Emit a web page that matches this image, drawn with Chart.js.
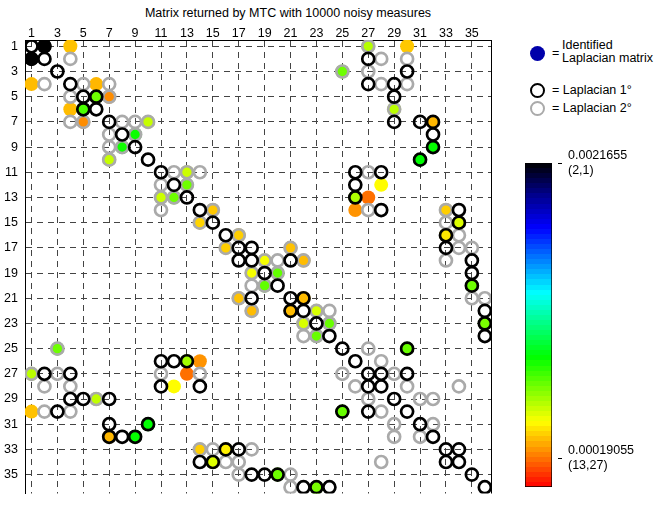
<!DOCTYPE html>
<html>
<head>
<meta charset="utf-8">
<script src="https://cdn.jsdelivr.net/npm/chart.js@4.4.1/dist/chart.umd.min.js"></script>
<style>
  html, body { margin: 0; padding: 0; background: #fff; }
  body { width: 655px; height: 508px; position: relative; overflow: hidden;
         font-family: "Liberation Sans", Arial, sans-serif; font-size: 12.5px; color: #000; }
  #main { position: absolute; left: 0; top: 0; }
  #cbar { position: absolute; left: 520px; top: 140px; }
  .title { position: absolute; left: 0; top: 6px; width: 576px; text-align: center; line-height: 14px; }
  .txt { position: absolute; white-space: nowrap; }
  .mark { position: absolute; width: 15px; height: 15px; border-radius: 50%; box-sizing: border-box; }
</style>
</head>
<body>
<div class="title">Matrix returned by MTC with 10000 noisy measures</div>
<canvas id="main" width="500" height="508"></canvas>
<canvas id="cbar" width="135" height="368"></canvas>

<div class="mark" style="left:530px; top:46px; background:#0000aa;"></div>
<div class="txt" style="left:552px; top:46px; line-height:14px;">=</div>
<div class="txt" style="left:562px; top:39px; line-height:13px;">Identified<br>Laplacian matrix</div>
<div class="mark" style="left:530px; top:83px; border:2.7px solid #000;"></div>
<div class="txt" style="left:552px; top:83px; line-height:14px;">= Laplacian 1°</div>
<div class="mark" style="left:530px; top:101px; border:2.7px solid #aaa;"></div>
<div class="txt" style="left:552px; top:101px; line-height:14px;">= Laplacian 2°</div>

<script>
// nodes of the network (rows / columns of the matrix)
const nodes = [1,2,3,4,5,6,7,8,9,10,11,12,13,14,15,16,17,18,19,20,21,22,23,24,25,26,27,28,29,30,31,32,33,34,35,36];
const tickLabels = [1,3,5,7,9,11,13,15,17,19,21,23,25,27,29,31,33,35];

// Laplacian 1° off-diagonal entries (upper triangle, mirrored when drawn)
const laplacian1 = [[1,2],[2,27],[3,30],[4,27],[4,29],[5,6],[5,29],[7,29],[7,31],[7,32],[8,32],[9,32],
  [10,31],[11,26],[11,28],[12,26],[13,26],[14,28],[14,34],[15,34],[16,33],[17,18],[17,33],[18,21],
  [18,35],[19,35],[20,35],[21,22],[22,36],[23,36],[24,36],[25,30],[27,28],[27,30],[33,34]];

// Laplacian 2° entries (upper triangle, mirrored when drawn)
const laplacian2 = [[1,27],[2,4],[2,28],[2,30],[3,25],[3,27],[4,5],[4,7],[4,28],[4,30],[5,7],[6,29],
  [7,8],[7,9],[7,10],[8,9],[11,12],[11,13],[11,14],[11,27],[12,13],[14,15],[14,27],[14,33],[15,33],
  [16,17],[16,34],[17,21],[17,34],[17,35],[18,19],[18,20],[18,22],[18,33],[19,20],[21,35],[21,36],
  [22,23],[22,24],[23,24],[25,27],[26,28],[27,29],[28,30],[28,34],[29,31],[29,32],[31,32]];

// identified entries: [row, column, value]
const identified = [
  [1,2,0.0021655],[2,1,0.0021655],[1,4,0.00033],[4,1,0.00032],[1,27,0.00056],[27,1,0.00055],
  [1,30,0.00034],[30,1,0.00033],[3,25,0.00068],[25,3,0.00068],[4,6,0.00031],[6,4,0.00032],
  [5,6,0.00068],[6,5,0.00074],[5,7,0.00024],[7,5,0.00024],[6,29,0.00055],[29,6,0.00054],
  [7,10,0.00053],[10,7,0.00053],[7,32,0.00031],[32,7,0.00031],[8,9,0.00085],[9,8,0.00084],
  [9,32,0.00086],[32,9,0.00086],[10,31,0.00087],[31,10,0.00087],[11,13,0.00052],[13,11,0.00052],
  [12,13,0.00068],[13,12,0.00068],[12,28,0.00043],[28,12,0.00043],[13,26,0.00057],[26,13,0.00059],
  [13,27,0.00019055],[27,13,0.00019055],[14,26,0.00025],[26,14,0.00025],[14,15,0.00034],[15,14,0.00036],
  [14,33,0.00035],[33,14,0.00035],[15,34,0.00049],[34,15,0.00049],[16,17,0.00035],[17,16,0.00035],
  [16,33,0.00039],[33,16,0.00041],[17,21,0.00033],[21,17,0.00033],[18,19,0.00045],[19,18,0.00045],
  [18,22,0.00032],[22,18,0.00032],[19,20,0.0007],[20,19,0.0007],[20,35,0.00068],[35,20,0.00068],
  [21,22,0.00032],[22,21,0.00032],[22,23,0.0005],[23,22,0.0005],[23,24,0.00069],[24,23,0.00069],
  [23,36,0.00066],[36,23,0.00066],[25,30,0.00069],[30,25,0.00069]];

// colour scale
const cmapMax = 0.0021655;
const colorbarTicks = [0.00019055, 0.0021655];
const colorbarLabels = [["0.00019055", "(13,27)"], ["0.0021655", "(2,1)"]];
const cmapStops = [[0, [255,0,0]], [0.2, [255,255,0]], [0.4, [0,255,0]], [0.6, [0,255,255]],
  [0.8, [0,0,255]], [0.9, [0,0,140]], [1, [0,0,0]]];

function cmap(t) {
  t = Math.max(0, Math.min(1, t));
  for (let i = 1; i < cmapStops.length; i++) {
    const [t1, c1] = cmapStops[i];
    const [t0, c0] = cmapStops[i - 1];
    if (t <= t1) {
      const f = (t - t0) / (t1 - t0);
      const c = c0.map((v, k) => Math.round(v + (c1[k] - v) * f));
      return "rgb(" + c.join(",") + ")";
    }
  }
  return "rgb(0,0,0)";
}

function mirror(pairs) {
  const pts = [];
  pairs.forEach(p => {
    pts.push({ x: p[1], y: p[0] });
    if (p[0] !== p[1]) pts.push({ x: p[0], y: p[1] });
  });
  return pts;
}

const font = { family: "'Liberation Sans', Arial, sans-serif", size: 12.5 };

// right side of the plot box
const frame = {
  id: "frame",
  afterDraw(chart) {
    const { ctx, chartArea } = chart;
    ctx.save();
    ctx.strokeStyle = "#000";
    ctx.lineWidth = 1;
    ctx.beginPath();
    ctx.moveTo(Math.round(chartArea.right) + 0.5, chartArea.top);
    ctx.lineTo(Math.round(chartArea.right) + 0.5, chartArea.bottom);
    ctx.stroke();
    ctx.restore();
  }
};

const axisTicks = s => { s.ticks = tickLabels.map(v => ({ value: v })); };

new Chart(document.getElementById("main"), {
  type: "scatter",
  data: {
    datasets: [
      {
        label: "Identified",
        data: identified.map(d => ({ x: d[1], y: d[0] })),
        pointRadius: 7,
        pointBorderWidth: 0,
        pointBackgroundColor: identified.map(d => cmap(d[2] / cmapMax)),
        order: 3
      },
      {
        label: "Laplacian 2°",
        data: mirror(laplacian2),
        pointRadius: 6,
        pointBorderWidth: 2.7,
        pointBorderColor: "#aaaaaa",
        pointBackgroundColor: "rgba(0,0,0,0)",
        order: 2
      },
      {
        label: "Laplacian 1°",
        data: mirror(nodes.map(n => [n, n]).concat(laplacian1)),
        pointRadius: 6,
        pointBorderWidth: 2.7,
        pointBorderColor: "#000000",
        pointBackgroundColor: "rgba(0,0,0,0)",
        order: 1
      }
    ]
  },
  options: {
    responsive: false,
    animation: false,
    events: [],
    layout: { padding: { left: 0, right: 7, top: 0, bottom: 0 } },
    plugins: { legend: { display: false }, tooltip: { enabled: false } },
    scales: {
      x: {
        type: "linear", position: "top", min: 0.5, max: 36.5,
        afterBuildTicks: axisTicks,
        afterFit: s => { s.height = 40; },
        ticks: { color: "#000", font: font, padding: -1, autoSkip: false, maxRotation: 0 },
        grid: { color: "#444", lineWidth: 1, drawTicks: false },
        border: { display: true, color: "#000", width: 1, dash: [6, 5] }
      },
      y: {
        type: "linear", reverse: true, min: 0.5, max: 36.5,
        afterBuildTicks: axisTicks,
        afterFit: s => { s.width = 25; },
        ticks: { color: "#000", font: font, padding: 7, autoSkip: false },
        grid: { color: "#444", lineWidth: 1, drawTicks: false },
        border: { display: true, color: "#000", width: 1, dash: [6, 5] }
      }
    }
  },
  plugins: [frame]
});

// colour bar
function barGradient(context) {
  const chart = context.chart;
  const y = chart.scales.y;
  if (!chart.chartArea || !y) return "#888";
  const g = chart.ctx.createLinearGradient(0, y.getPixelForValue(0), 0, y.getPixelForValue(cmapMax));
  const steps = 64;
  for (let k = 0; k < steps; k++) {
    const c = cmap((k + 0.5) / steps);
    g.addColorStop(k / steps, c);
    g.addColorStop((k + 1) / steps, c);
  }
  return g;
}

new Chart(document.getElementById("cbar"), {
  type: "bar",
  data: {
    labels: [""],
    datasets: [{
      data: [[0, cmapMax]],
      backgroundColor: barGradient,
      borderColor: "#000",
      borderWidth: 1,
      borderSkipped: false,
      barPercentage: 1,
      categoryPercentage: 1
    }]
  },
  options: {
    responsive: false,
    animation: false,
    events: [],
    layout: { padding: { left: 5, right: 0, top: 23, bottom: 6 } },
    plugins: { legend: { display: false }, tooltip: { enabled: false } },
    scales: {
      x: { display: false },
      y: {
        position: "right", min: 0, max: cmapMax,
        afterBuildTicks: s => { s.ticks = colorbarTicks.map(v => ({ value: v })); },
        afterFit: s => { s.width = 103; },
        ticks: { color: "#000", font: font, padding: 6, callback: (v, i) => colorbarLabels[i] },
        grid: { drawOnChartArea: false, tickLength: 10, tickColor: "#000", tickBorderDash: [0, 6, 4, 20] },
        border: { display: false }
      }
    }
  }
});
</script>
</body>
</html>
